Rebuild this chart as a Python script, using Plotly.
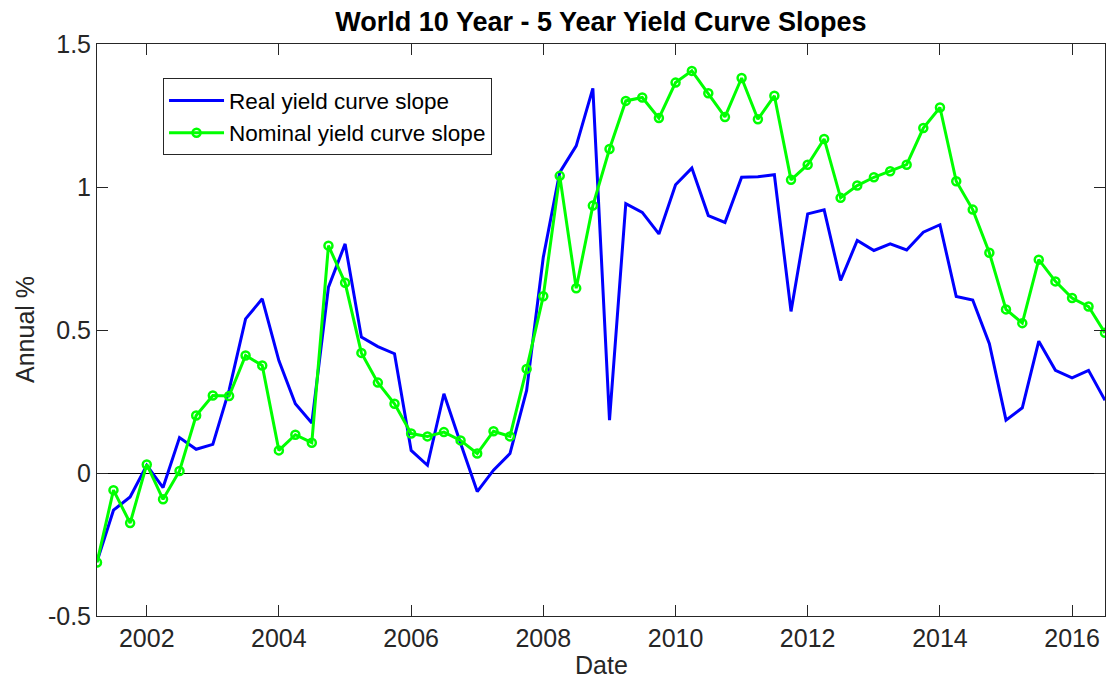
import pandas as pd
import plotly.graph_objects as go

# Quarterly observation dates (first day of each quarter), 2001Q2 .. 2016Q3
dates = pd.date_range("2001-04-01", periods=62, freq="QS").strftime("%Y-%m-%d").tolist()

# 10y - 5y real yield curve slope (annual %)
real_slope = [
    -0.31, -0.13, -0.084, 0.027, -0.051, 0.124, 0.083, 0.100, 0.29, 0.539,
    0.609, 0.393, 0.242, 0.175, 0.650, 0.801, 0.475, 0.442, 0.417, 0.079,
    0.027, 0.277, 0.104, -0.065, 0.01, 0.068, 0.289, 0.754, 1.051, 1.144,
    1.345, 0.185, 0.942, 0.911, 0.836, 1.008, 1.066, 0.900, 0.876, 1.034,
    1.036, 1.043, 0.565, 0.906, 0.920, 0.673, 0.813, 0.778, 0.801, 0.780,
    0.842, 0.868, 0.617, 0.605, 0.452, 0.185, 0.228, 0.461, 0.359, 0.333,
    0.359, 0.254,
]

# 10y - 5y nominal yield curve slope (annual %)
nominal_slope = [
    -0.313, -0.060, -0.175, 0.030, -0.092, 0.007, 0.201, 0.271, 0.269, 0.411,
    0.376, 0.079, 0.134, 0.106, 0.795, 0.665, 0.420, 0.316, 0.242, 0.138,
    0.128, 0.143, 0.114, 0.068, 0.146, 0.128, 0.364, 0.618, 1.039, 0.646,
    0.935, 1.133, 1.301, 1.313, 1.241, 1.365, 1.406, 1.328, 1.245, 1.381,
    1.237, 1.319, 1.025, 1.078, 1.168, 0.962, 1.005, 1.034, 1.055, 1.078,
    1.206, 1.278, 1.020, 0.921, 0.770, 0.572, 0.524, 0.746, 0.670, 0.612,
    0.582, 0.490,
]

x_tick_years = [2002, 2004, 2006, 2008, 2010, 2012, 2014, 2016]
y_tick_vals = [-0.5, 0, 0.5, 1, 1.5]
y_tick_text = ["-0.5", "0", "0.5", "1", "1.5"]

FONT = "Liberation Sans, Arial, Helvetica, sans-serif"
AXIS_COLOR = "#262626"

fig = go.Figure()

fig.add_trace(go.Scatter(
    x=dates, y=real_slope, mode="lines", name="Real yield curve slope",
    line=dict(color="#0000FF", width=3),
))
fig.add_trace(go.Scatter(
    x=dates, y=nominal_slope, mode="lines+markers", name="Nominal yield curve slope",
    line=dict(color="#00FF00", width=3),
    marker=dict(symbol="circle-open", size=8, color="#00FF00", line=dict(width=2.5, color="#00FF00")),
))

axis_common = dict(
    showline=True, linecolor=AXIS_COLOR, linewidth=1, mirror="ticks",
    ticks="inside", ticklen=11, tickcolor=AXIS_COLOR, tickwidth=1,
    showgrid=False, tickfont=dict(family=FONT, size=25, color=AXIS_COLOR),
)

fig.update_xaxes(
    **axis_common,
    range=["2001-04-01", "2016-07-01"],
    tickvals=[f"{y}-01-01" for y in x_tick_years],
    ticktext=[str(y) for y in x_tick_years],
    zeroline=False,
)
fig.update_yaxes(
    **axis_common,
    range=[-0.5, 1.5],
    tickvals=y_tick_vals, ticktext=y_tick_text,
    zeroline=True, zerolinecolor="#000000", zerolinewidth=1,
)

fig.update_layout(
    width=1108, height=682,
    margin=dict(l=97, r=3, t=44, b=66),
    paper_bgcolor="white", plot_bgcolor="white",
    showlegend=True,
    legend=dict(
        x=0.0655, y=0.94, xanchor="left", yanchor="top",
        bordercolor=AXIS_COLOR, borderwidth=1, bgcolor="white",
        font=dict(family=FONT, size=22.5, color="#000000"),
        itemwidth=55, tracegroupgap=0,
    ),
    title=dict(
        text="<b>World 10 Year - 5 Year Yield Curve Slopes</b>",
        x=0.5, xref="paper", y=1 - 22 / 682, yref="container",
        xanchor="center", yanchor="middle",
        font=dict(family=FONT, size=27, color="#000000"),
    ),
    annotations=[
        dict(text="Date", xref="paper", yref="paper", x=0.5, y=0,
             xanchor="center", yanchor="middle", yshift=-49, showarrow=False,
             font=dict(family=FONT, size=25, color=AXIS_COLOR)),
        dict(text="Annual %", xref="paper", yref="paper", x=0, y=0.5,
             xanchor="center", yanchor="middle", xshift=-72, textangle=-90,
             showarrow=False, font=dict(family=FONT, size=25, color=AXIS_COLOR)),
    ],
)

fig.write_html("out.html")
